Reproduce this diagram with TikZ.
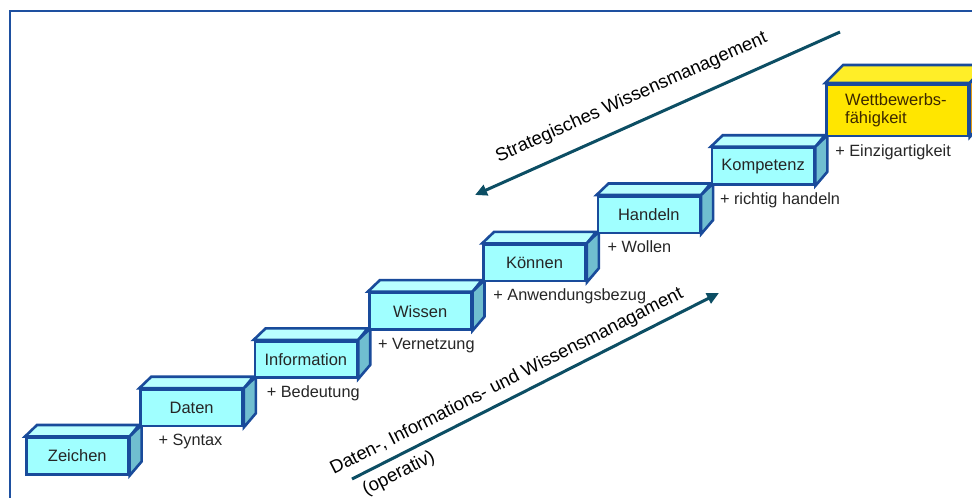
\documentclass[tikz,border=0pt]{standalone}
\usepackage{fontspec}
\setmainfont{Liberation Sans}
\usetikzlibrary{arrows.meta}

\definecolor{rand}{RGB}{25,75,155}
\definecolor{rahmen}{RGB}{30,80,160}
\definecolor{pfeilfarbe}{RGB}{12,78,100}
\definecolor{cyanfront}{RGB}{160,255,255}
\definecolor{cyantop}{RGB}{185,255,255}
\definecolor{cyanside}{RGB}{112,190,208}
\definecolor{gelbfront}{RGB}{255,230,0}
\definecolor{gelbtop}{RGB}{255,238,40}
\definecolor{gelbside}{RGB}{255,165,0}
\definecolor{braun}{RGB}{60,40,0}

\tikzset{
  face/.style={draw=rand, line width=2.6pt, line join=miter},
  stufe/.style={face, inner sep=0pt, anchor=north west,
    font=\fontsize{16.5}{18}\selectfont},
  cyanstufe/.style={fill=cyanfront, text=black!85},
  gelbstufe/.style={fill=gelbfront, text=braun, align=left},
  plus/.style={inner sep=0pt, anchor=base west,
    font=\fontsize{16.3}{18}\selectfont, text=black!85},
  pfeil/.style={draw=pfeilfarbe, line width=3pt,
    -{Triangle[length=12pt,width=11pt]}},
  pfeiltext/.style={inner sep=0pt, anchor=base,
    font=\fontsize{18.5}{21}\selectfont, text=black}
}

% #1 name, #2 left, #3 top, #4 width, #5 height, #6 depth vector,
% #7 colour prefix, #8 label
\newcommand\treppenstufe[8]{%
  \node[stufe, #7stufe, minimum width=#4, minimum height=#5]
    (#1) at (#2,#3) {#8};
  \filldraw[face, fill=#7top] (#1.north west) -- ++(#6) -- ++(#4,0)
    -- (#1.north east) -- cycle;
  \filldraw[face, fill=#7side] (#1.north east) -- ++(#6) -- ++(0,#5)
    -- (#1.south east) -- cycle;
}

\begin{document}
\begin{tikzpicture}[x=1pt, y=-1pt]
\useasboundingbox (0,0) rectangle (972,498);
\clip (0,0) rectangle (972,498);
\fill[white] (0,0) rectangle (972,498);

% outer frame
\draw[rahmen, line width=2.5pt] (10,505) -- (10,11) -- (980,11);

% staircase
\treppenstufe{zeichen}{25}{436.5}{102}{36.5}{12,-11.5}{cyan}{Zeichen}
\treppenstufe{daten}{139.3}{388.2}{102}{36.5}{12,-11.5}{cyan}{Daten}
\treppenstufe{information}{253.6}{339.9}{102}{36.5}{12,-11.5}{cyan}{Information}
\treppenstufe{wissen}{367.9}{291.6}{102}{36.5}{12,-11.5}{cyan}{Wissen}
\treppenstufe{koennen}{482.2}{243.3}{102}{36.5}{12,-11.5}{cyan}{Können}
\treppenstufe{handeln}{596.5}{195}{102}{36.5}{12,-11.5}{cyan}{Handeln}
\treppenstufe{kompetenz}{710.8}{146.7}{102}{36.5}{12,-11.5}{cyan}{Kompetenz}
\treppenstufe{wettbewerb}{825.1}{83}{142}{51.5}{18,-18}{gelb}{Wettbewerbs-\\fähigkeit\hspace*{2.6em}}

% step labels
\node[plus, xshift=19pt, yshift=-18.5pt] (syntax) at (daten.south west) {+ Syntax};
\node[plus, xshift=13pt, yshift=-18.5pt] (bedeutung) at (information.south west) {+ Bedeutung};
\node[plus, xshift=10pt, yshift=-18.5pt] (vernetzung) at (wissen.south west) {+ Vernetzung};
\node[plus, xshift=11pt, yshift=-18.5pt] (anwendung) at (koennen.south west) {+ Anwendungsbezug};
\node[plus, xshift=11pt, yshift=-18.5pt] (wollen) at (handeln.south west) {+ Wollen};
\node[plus, xshift=9pt, yshift=-18.5pt] (richtig) at (kompetenz.south west) {+ richtig handeln};
\node[plus, xshift=10pt, yshift=-19.5pt] (einzig) at (wettbewerb.south west) {+ Einzigartigkeit};

% strategic arrow (top down)
\coordinate (stratA) at (840,32);
\coordinate (stratB) at (475,195);
\draw[pfeil] (stratA) -- (stratB);
\node[pfeiltext, rotate=24.06] (strattext) at (633.5,102) {Strategisches Wissensmanagement};

% operative arrow (bottom up)
\coordinate (opA) at (352,479);
\coordinate (opB) at (719,293);
\draw[pfeil] (opA) -- (opB);
\node[pfeiltext, rotate=26.9] (optext) at (509,386) {Daten-, Informations- und Wissensmanagament};
\node[pfeiltext, rotate=26.9] (optext2) at (401,478) {(operativ)};
\end{tikzpicture}
\end{document}
